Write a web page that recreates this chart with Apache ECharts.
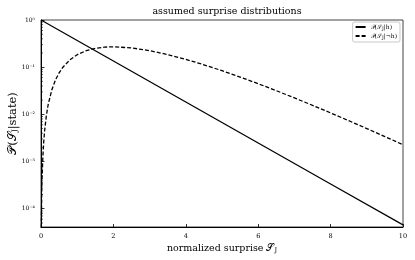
<!DOCTYPE html>
<html>
<head>
<meta charset="utf-8">
<script src="https://cdn.jsdelivr.net/npm/echarts@6/dist/echarts.min.js"></script>
<style>html,body{margin:0;padding:0;background:#fff}#c{width:415px;height:260px}</style>
</head>
<body>
<div id="c"></div>
<script>
// Data
const chartTitle = 'assumed surprise distributions';
const xTicks = [0, 2, 4, 6, 8, 10];
const surpriseH = [0, 2, 4, 6, 8, 10];
const probH = [1, 0.1353, 0.01832, 0.002479, 0.000335, 0.0000454];
const surpriseNotH = [0.009, 0.01, 0.02, 0.03, 0.05, 0.075, 0.1, 0.15, 0.2, 0.3, 0.4, 0.5, 0.6, 0.8, 1, 1.25, 1.5, 1.75, 2, 2.5, 3, 3.5, 4, 4.5, 5, 5.5, 6, 6.5, 7, 7.5, 8, 8.5, 9, 9.5, 10];
const probNotH = [4.01e-5, 4.95e-5, 1.96e-4, 4.37e-4, 1.19e-3, 2.61e-3, 4.52e-3, 9.68e-3, 0.0164, 0.0333, 0.0536, 0.0758, 0.0988, 0.1438, 0.1839, 0.2238, 0.2510, 0.2661, 0.2707, 0.2565, 0.2240, 0.1850, 0.1465, 0.1125, 0.0842, 0.0618, 0.0446, 0.0318, 0.0223, 0.01556, 0.01073, 0.00735, 0.00500, 0.00338, 0.00227];
const nameH = 'P(S|h)';
const nameNotH = 'P(S|¬h)';

const serif = '"DejaVu Serif", "Liberation Serif", serif';
const sup = {'-':'⁻','0':'⁰','1':'¹','2':'²','3':'³','4':'⁴','5':'⁵','6':'⁶','7':'⁷','8':'⁸','9':'⁹'};
function supStr(n){return String(n).split('').map(c=>sup[c]||c).join('');}

const yMin = 4.1e-5, yMax = 1;
const minorTicks = [];
for (let e = -5; e < 0; e++) for (let k = 2; k <= 9; k++) { const v = k * Math.pow(10, e); if (v > yMin && v < yMax) minorTicks.push([0, v]); }

const legendRich = {
  a: {fontFamily: serif, fontSize: 6, color: '#000'},
  s: {fontFamily: serif, fontSize: 4.5, color: '#000', padding: [3, 0, 0, 0]}
};
const xNameRich = {
  a: {fontFamily: serif, fontSize: 9.5, color: '#000'},
  s: {fontFamily: serif, fontSize: 6.5, color: '#000', padding: [4, 0, 0, 0]}
};
const yNameRich = {
  a: {fontFamily: serif, fontSize: 11.5, color: '#000'},
  s: {fontFamily: serif, fontSize: 7.5, color: '#000', padding: [4, 0, 0, 0]}
};

const chart = echarts.init(document.getElementById('c'), null, {renderer: 'canvas'});
chart.setOption({
  animation: false,
  backgroundColor: '#fff',
  title: {
    text: chartTitle, left: 222, top: 2, textAlign: 'center',
    textStyle: {fontFamily: serif, fontSize: 9.5, fontWeight: 'normal', color: '#000'}
  },
  grid: {left: 41, right: 12, top: 20, bottom: 33, show: true, borderColor: '#444', borderWidth: 1, containLabel: false, outerBoundsMode: 'none'},
  legend: {
    data: [nameH, nameNotH], orient: 'vertical', right: 15, top: 22,
    itemWidth: 10, itemHeight: 6, itemGap: 2, padding: [2, 3, 2, 2],
    borderColor: '#bbb', borderWidth: 0.8, borderRadius: 2, backgroundColor: '#fff',
    itemStyle: {opacity: 0},
    textStyle: {rich: legendRich, fontSize: 6},
    formatter: function(n){ return n === nameH ? '{a|𝒫(𝒮}{s|J}{a||h)}' : '{a|𝒫(𝒮}{s|J}{a||¬h)}'; }
  },
  xAxis: {
    type: 'value', min: xTicks[0], max: xTicks[xTicks.length-1], interval: 2,
    name: '{a|normalized surprise 𝒮}{s|J}', nameLocation: 'middle', nameGap: 16, nameMoveOverlap: false,
    nameTextStyle: {rich: xNameRich},
    axisLine: {show: true, lineStyle: {color: '#000', width: 1}},
    axisTick: {show: true, inside: true, length: 3, lineStyle: {color: '#000', width: 0.8}},
    axisLabel: {fontFamily: serif, fontSize: 6.5, color: '#000', margin: 6},
    splitLine: {show: false}
  },
  yAxis: {
    type: 'log', logBase: 10, min: yMin, max: yMax,
    name: '{a|𝒫(𝒮}{s|J}{a||state)}', nameLocation: 'middle', nameGap: 22, nameRotate: 90, nameMoveOverlap: false,
    nameTextStyle: {rich: yNameRich},
    axisLine: {show: true, lineStyle: {color: '#000', width: 1}},
    axisTick: {show: true, inside: true, length: 3.5, lineStyle: {color: '#000', width: 0.8}},
    axisLabel: {
      fontFamily: serif, fontSize: 6, color: '#000', margin: 6, showMinLabel: false,
      formatter: function(v){
        const e = Math.log10(v); const r = Math.round(e);
        if (Math.abs(e - r) > 1e-6) return '';
        return '10' + supStr(r);
      }
    },
    splitLine: {show: false}
  },
  series: [
    {
      name: nameH, type: 'line', symbol: 'none', clip: true,
      data: surpriseH.map((s, i) => [s, probH[i]]),
      lineStyle: {color: '#000', width: 1.3}, itemStyle: {color: '#000'}
    },
    {
      name: nameNotH, type: 'line', symbol: 'none', smooth: false, clip: true,
      data: surpriseNotH.map((s, i) => [s, probNotH[i]]),
      lineStyle: {color: '#000', width: 1.3, type: [4, 2]}, itemStyle: {color: '#000'}
    },
    {
      name: 'minor', type: 'custom', silent: true, clip: false,
      data: minorTicks,
      renderItem: function(params, api){
        const p = api.coord([api.value(0), api.value(1)]);
        return {type: 'line', shape: {x1: p[0], y1: p[1], x2: p[0] + 2, y2: p[1]}, style: {stroke: '#000', lineWidth: 0.6}};
      }
    }
  ]
});
</script>
</body>
</html>
